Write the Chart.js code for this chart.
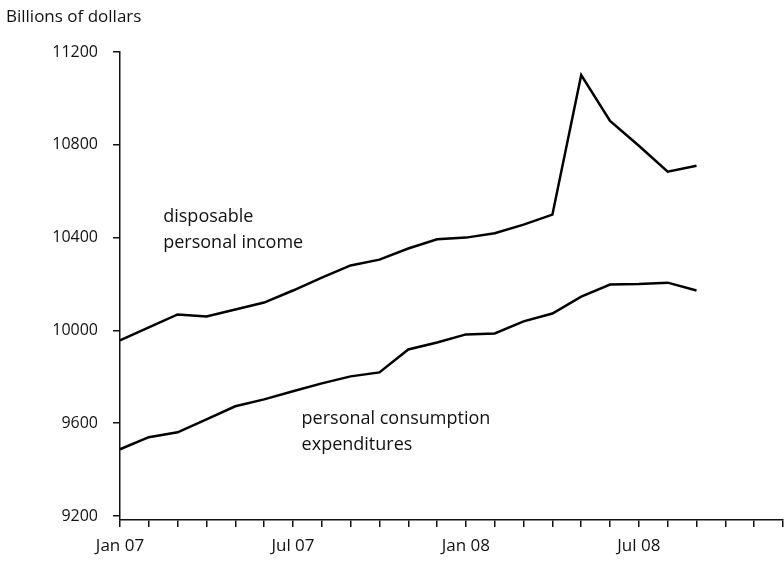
<!DOCTYPE html>
<html>
<head>
<meta charset="utf-8">
<script src="https://cdn.jsdelivr.net/npm/chart.js@4"></script>
<style>
  html, body { margin: 0; padding: 0; background: #fff; }
  #wrap { width: 784px; height: 562px; }
</style>
</head>
<body>
<div id="wrap"><canvas id="chart"></canvas></div>
<script>
const months = [
    'Jan 07', 'Feb 07', 'Mar 07', 'Apr 07', 'May 07', 'Jun 07',
    'Jul 07', 'Aug 07', 'Sep 07', 'Oct 07', 'Nov 07', 'Dec 07',
    'Jan 08', 'Feb 08', 'Mar 08', 'Apr 08', 'May 08', 'Jun 08',
    'Jul 08', 'Aug 08', 'Sep 08', 'Oct 08', 'Nov 08', 'Dec 08',
];
const disposableIncome = [
    9957, 10013, 10069, 10060, 10090, 10120, 10172, 10228, 10280, 10305,
    10353, 10393, 10400, 10419, 10456, 10499, 11101, 10903, 10796, 10684,
    10710,
];
const consumption = [
    9488, 9540, 9561, 9617, 9673, 9703, 9738, 9772, 9802, 9819,
    9918, 9948, 9983, 9987, 10039, 10073, 10146, 10198, 10200, 10206,
    10172,
];
const yTicks = [9200, 9600, 10000, 10400, 10800, 11200];
const axisTitle = 'Billions of dollars';
const seriesNotes = [
    { lines: ['disposable', 'personal income'], month: 1.5, value: 10490 },
    { lines: ['personal consumption', 'expenditures'], month: 6.3, value: 9620 },
];

const FONT = '"Open Sans", sans-serif';
const INK = '#111';

// free text: axis title and series labels
const notesPlugin = {
    id: 'notes',
    afterDraw(chart) {
        const ctx = chart.ctx;
        const x = chart.scales.x;
        const y = chart.scales.y;
        ctx.save();
        ctx.fillStyle = INK;
        ctx.textBaseline = 'middle';
        ctx.textAlign = 'left';
        ctx.font = '17px ' + FONT;
        ctx.fillText(axisTitle, 6, 17);
        ctx.font = '18px ' + FONT;
        seriesNotes.forEach((n) => {
            const px = x.getPixelForValue(n.month);
            const py = y.getPixelForValue(n.value);
            n.lines.forEach((t, i) => ctx.fillText(t, px, py + i * 26));
        });
        ctx.restore();
    },
};

new Chart(document.getElementById('chart').getContext('2d'), {
    type: 'line',
    data: {
        labels: months,
        datasets: [
            {
                label: 'disposable personal income',
                data: disposableIncome,
                borderColor: '#000',
                borderWidth: 2.5,
                pointRadius: 0,
                tension: 0,
            },
            {
                label: 'personal consumption expenditures',
                data: consumption,
                borderColor: '#000',
                borderWidth: 2.5,
                pointRadius: 0,
                tension: 0,
            },
        ],
    },
    options: {
        responsive: true,
        maintainAspectRatio: false,
        animation: false,
        layout: { padding: { top: 52, right: 1, left: 0, bottom: 0 } },
        plugins: {
            legend: { display: false },
            tooltip: { enabled: false },
        },
        scales: {
            x: {
                type: 'category',
                offset: false,
                grid: {
                    drawOnChartArea: false,
                    tickLength: 7,
                    color: INK,
                    lineWidth: 1.5,
                },
                border: { color: INK, width: 1.5 },
                ticks: {
                    autoSkip: false,
                    maxRotation: 0,
                    color: INK,
                    font: { family: FONT, size: 17 },
                    padding: 9,
                    callback: (v, i) => (i % 6 === 0 ? months[i] : ''),
                },
                afterFit: (scale) => {
                    scale.height = 42;
                    scale.paddingRight = 0;
                },
            },
            y: {
                min: 9183,
                max: 11200,
                grid: {
                    drawOnChartArea: false,
                    tickLength: 7,
                    color: INK,
                    lineWidth: 1.5,
                },
                border: { color: INK, width: 1.5 },
                ticks: {
                    stepSize: 400,
                    color: INK,
                    font: { family: FONT, size: 16 },
                    padding: 15,
                    callback: (v) => String(v),
                },
                afterBuildTicks: (scale) => {
                    scale.ticks = yTicks.map((v) => ({ value: v }));
                },
                afterFit: (scale) => { scale.width = 120; },
            },
        },
    },
    plugins: [notesPlugin],
});
</script>
</body>
</html>
